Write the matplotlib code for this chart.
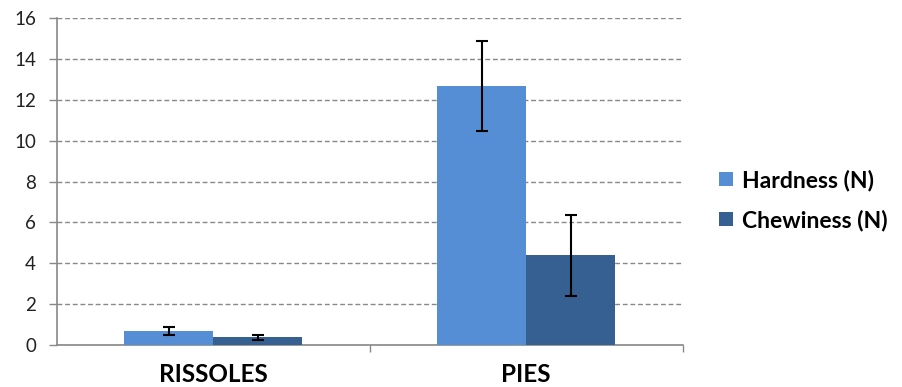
import matplotlib

matplotlib.use("Agg")
import matplotlib.pyplot as plt
import numpy as np

categories = ["RISSOLES", "PIES"]
series = ["Hardness (N)", "Chewiness (N)"]
hardness = [0.68, 12.65]
hardness_err = [0.2, 2.2]
chewiness = [0.38, 4.38]
chewiness_err = [0.13, 2.0]
yticks = [0, 2, 4, 6, 8, 10, 12, 14, 16]

colors = ["#558ed5", "#366092"]
plt.rcParams["font.family"] = ["Lato", "DejaVu Sans"]

fig = plt.figure(figsize=(9.03, 3.87), dpi=100)
ax = fig.add_axes([0.063, 0.1085, 0.693, 0.845])

x = np.arange(len(categories))
w = 0.284
err_kw = dict(ecolor="black", elinewidth=1.5, capsize=4, capthick=1.5)
ax.bar(x - w / 2, hardness, w, yerr=hardness_err, color=colors[0],
       label=series[0], error_kw=err_kw, zorder=3)
ax.bar(x + w / 2, chewiness, w, yerr=chewiness_err, color=colors[1],
       label=series[1], error_kw=err_kw, zorder=3)

ax.set_xlim(-0.5, 1.5)
ax.set_ylim(0, 16)
ax.set_yticks(yticks)
ax.set_xticks(x)
ax.set_xticklabels(categories, fontsize=17.5, fontweight="bold")
ax.set_xticks([0.5, 1.5], minor=True)
ax.tick_params(axis="x", which="major", length=0, pad=13)
ax.tick_params(axis="x", which="minor", length=5, color="#888888", width=1)
ax.tick_params(axis="y", length=6, color="#888888", width=1, labelsize=13.5,
               labelcolor="#222222", pad=9)
ax.grid(axis="y", color="#888888", linestyle=(0, (3.5, 2)), linewidth=1, zorder=0)
for s in ["top", "right"]:
    ax.spines[s].set_visible(False)
for s in ["left", "bottom"]:
    ax.spines[s].set_color("#888888")
    ax.spines[s].set_linewidth(1.2)

leg = ax.legend(loc="center left", bbox_to_anchor=(1.025, 0.443), frameon=False,
                prop={"weight": "bold", "size": 16.5}, handlelength=0.6,
                handleheight=0.6, labelspacing=0.8, handletextpad=0.4)

fig.savefig("out.png", dpi=100)
